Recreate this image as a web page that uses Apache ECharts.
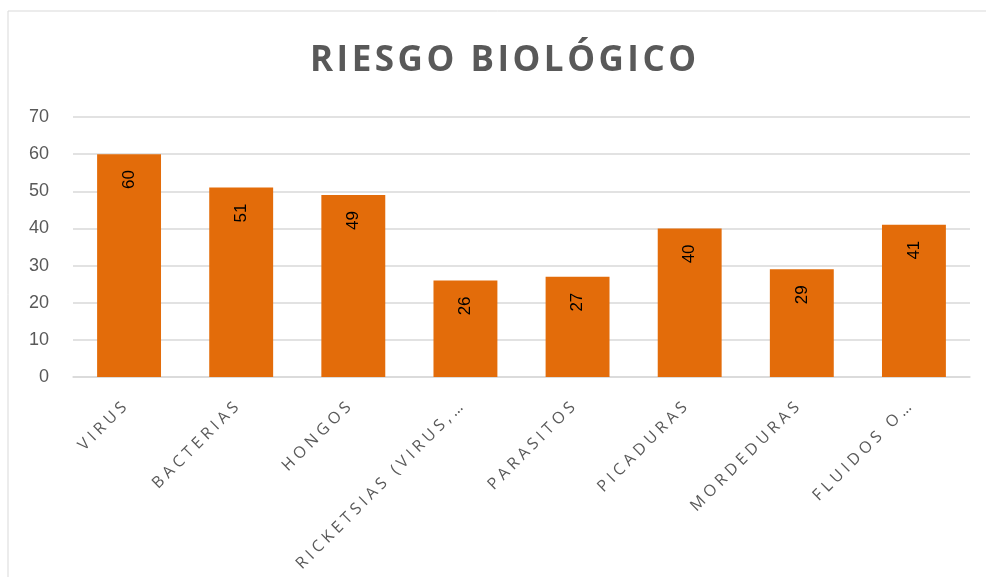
<!DOCTYPE html>
<html>
<head>
<meta charset="utf-8">
<script src="https://cdn.jsdelivr.net/npm/echarts@6/dist/echarts.min.js"></script>
<style>
  html, body { margin: 0; padding: 0; background: #fff; }
  #chart { width: 986px; height: 577px; }
</style>
</head>
<body>
<div id="chart"></div>
<script>
  // datos del grafico
  var categorias = ['VIRUS', 'BACTERIAS', 'HONGOS', 'RICKETSIAS (VIRUS,…', 'PARASITOS', 'PICADURAS', 'MORDEDURAS', 'FLUIDOS O…']
  var valores = [60, 51, 49, 26, 27, 40, 29, 41]
  var ticksY = [0, 10, 20, 30, 40, 50, 60, 70]

  // espaciado entre letras (como en Excel)
  function espaciar(txt, sep) {
    return txt.split('').join(sep)
  }

  var myChart = echarts.init(document.getElementById('chart'))
  var option = {
    backgroundColor: '#fff',
    animation: false,
    title: {
      text: espaciar('RIESGO BIOLÓGICO', '\u200A'),
      left: 305,
      top: 39,
      textStyle: {
        fontFamily: 'Open Sans',
        fontWeight: 'bold',
        fontSize: 35,
        color: '#595959'
      }
    },
    graphic: [{
      type: 'rect',
      shape: { x: 8, y: 11, width: 1000, height: 620 },
      style: { fill: 'none', stroke: '#d9d9d9', lineWidth: 1 },
      silent: true
    }],
    grid: {
      left: 73,
      right: 16,
      top: 117,
      bottom: 200
    },
    xAxis: {
      type: 'category',
      data: categorias,
      axisLine: { lineStyle: { color: '#d9d9d9', width: 1.5 } },
      axisTick: { show: false },
      axisLabel: {
        rotate: 45,
        margin: 23,
        padding: [0, 7, 0, 0],
        interval: 0,
        color: '#595959',
        fontFamily: 'Open Sans',
        fontSize: 16,
        formatter: function (v) { return espaciar(v, ' ') }
      }
    },
    yAxis: {
      type: 'value',
      min: ticksY[0],
      max: ticksY[ticksY.length - 1],
      interval: 10,
      axisLine: { show: false },
      axisTick: { show: false },
      splitLine: { lineStyle: { color: '#d9d9d9', width: 1.5 } },
      axisLabel: {
        margin: 24,
        color: '#595959',
        fontFamily: 'Liberation Sans',
        fontSize: 18
      }
    },
    series: [{
      type: 'bar',
      data: valores,
      barCategoryGap: '43%',
      itemStyle: { color: '#e36c0a' },
      label: {
        show: true,
        position: 'insideTop',
        distance: 16,
        rotate: 90,
        align: 'right',
        verticalAlign: 'middle',
        color: '#000',
        fontFamily: 'Liberation Sans',
        fontSize: 17
      }
    }]
  }
  myChart.setOption(option, true)
</script>
</body>
</html>
